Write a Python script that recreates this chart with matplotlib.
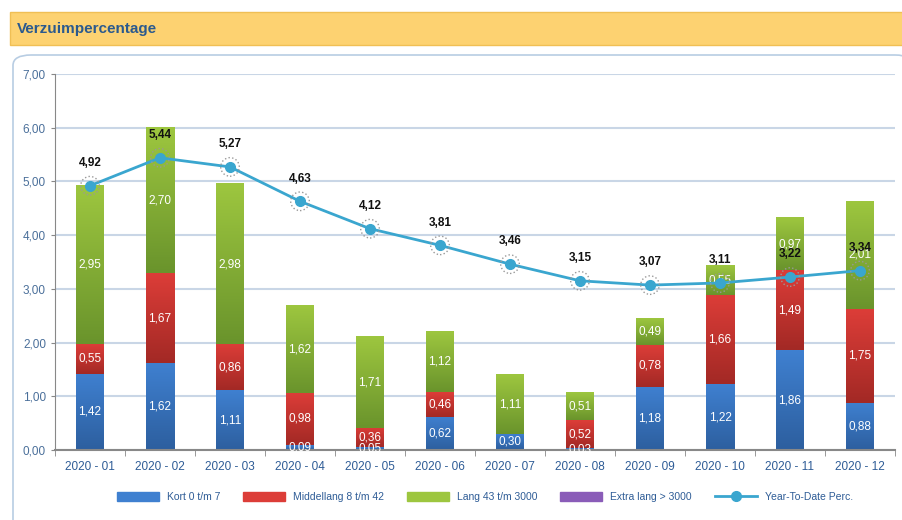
import matplotlib
matplotlib.use("Agg")
import matplotlib.pyplot as plt
import numpy as np
from matplotlib.colors import LinearSegmentedColormap
from matplotlib.patches import Rectangle, FancyBboxPatch

maanden = ["2020 - 01", "2020 - 02", "2020 - 03", "2020 - 04", "2020 - 05", "2020 - 06",
           "2020 - 07", "2020 - 08", "2020 - 09", "2020 - 10", "2020 - 11", "2020 - 12"]
kort = [1.42, 1.62, 1.11, 0.09, 0.05, 0.62, 0.30, 0.03, 1.18, 1.22, 1.86, 0.88]
middellang = [0.55, 1.67, 0.86, 0.98, 0.36, 0.46, 0.00, 0.52, 0.78, 1.66, 1.49, 1.75]
lang = [2.95, 2.70, 2.98, 1.62, 1.71, 1.12, 1.11, 0.51, 0.49, 0.55, 0.97, 2.01]
extra_lang = [0, 0, 0, 0, 0, 0, 0, 0, 0, 0, 0, 0]
ytd = [4.92, 5.44, 5.27, 4.63, 4.12, 3.81, 3.46, 3.15, 3.07, 3.11, 3.22, 3.34]

reeksen = [
    ("Kort 0 t/m 7", kort, "#2d5f9f", "#3f80d0"),
    ("Middellang 8 t/m 42", middellang, "#a32925", "#dc3d38"),
    ("Lang 43 t/m 3000", lang, "#6a942c", "#9dc63f"),
    ("Extra lang > 3000", extra_lang, "#6a3f94", "#8a5cb8"),
]


def komma(v):
    return f"{v:.2f}".replace(".", ",")


fig = plt.figure(figsize=(9.03, 5.2), dpi=100)

# titelbalk en paneel
fig.patches.append(Rectangle((10 / 903, 1 - 45 / 520), 893 / 903, 33 / 520,
                             transform=fig.transFigure, facecolor="#fdd271",
                             edgecolor="#f0bf55", lw=1, zorder=0))
fig.text(17 / 903, 1 - 29 / 520, "Verzuimpercentage", color="#2b5a8e",
         fontsize=11, fontweight="bold", va="center", family="Liberation Sans")
fig.patches.append(FancyBboxPatch((13 / 903, -0.05), 900 / 903, 1 - 55 / 520 + 0.05,
                                  boxstyle="round,pad=0,rounding_size=0.02",
                                  transform=fig.transFigure, facecolor="white",
                                  edgecolor="#b8cde3", lw=1.2, zorder=0))

ax = fig.add_axes([55 / 903, 1 - 450 / 520, 840 / 903, 376 / 520])
ax.set_zorder(2)
ax.set_facecolor("none")
x = np.arange(len(maanden))
breedte = 0.4
onder = np.zeros(len(maanden))
grad = np.linspace(0, 1, 64).reshape(-1, 1)
handles = []
for naam, waarden, donker, licht in reeksen:
    waarden = np.array(waarden)
    bars = ax.bar(x, waarden, breedte, bottom=onder, color=licht, zorder=2, label=naam)
    cmap = LinearSegmentedColormap.from_list(naam, [donker, licht])
    for b, v in zip(bars, waarden):
        if v <= 0:
            continue
        ax.imshow(grad, cmap=cmap, origin="lower", aspect="auto", zorder=2.1,
                  extent=[b.get_x(), b.get_x() + b.get_width(), b.get_y(), b.get_y() + b.get_height()])
        if naam != "Extra lang > 3000":
            ax.text(b.get_x() + b.get_width() / 2, b.get_y() + b.get_height() / 2, komma(v),
                    color="white", ha="center", va="center", fontsize=8.5, zorder=4,
                    family="Liberation Sans")
    handles.append(Rectangle((0, 0), 1, 1, color=licht))
    onder = onder + waarden

lijn, = ax.plot(x, ytd, color="#3aa6cf", lw=2, marker="o", ms=7, zorder=5,
                label="Year-To-Date Perc.")
ax.scatter(x, ytd, s=180, facecolors="none", edgecolors="#999999", linestyles=":", zorder=5)
for xi, v in zip(x, ytd):
    ax.annotate(komma(v), (xi, v), xytext=(0, 12), textcoords="offset points",
                ha="center", va="bottom", fontsize=8.5, fontweight="bold", color="#111111",
                zorder=6, family="Liberation Sans")

ax.set_xlim(-0.5, len(maanden) - 0.5)
ax.set_ylim(0, 7)
ax.set_yticks(np.arange(0, 8, 1))
ax.set_yticklabels([komma(v) for v in np.arange(0, 8, 1)])
ax.set_xticks(x)
ax.set_xticklabels(maanden)
ax.grid(axis="y", color="#c9d6e6", lw=1.5, zorder=0)
ax.set_axisbelow(True)
for s in ["top", "right"]:
    ax.spines[s].set_visible(False)
ax.spines["left"].set_color("#888888")
ax.spines["bottom"].set_color("#888888")
ax.spines["bottom"].set_linewidth(1.5)
ax.tick_params(axis="y", colors="#888888", labelcolor="#4a6f9a", labelsize=8.5, length=3)
ax.tick_params(axis="x", colors="#888888", labelcolor="#2e5c96", labelsize=8.5, length=4, pad=8)
for t in ax.get_xticklabels() + ax.get_yticklabels():
    t.set_family("Liberation Sans")
ax.set_xticks(np.arange(-0.5, len(maanden), 1), minor=True)
ax.tick_params(axis="x", which="major", length=0)
ax.tick_params(axis="x", which="minor", length=4, colors="#888888")

fig.legend(handles + [lijn], [r[0] for r in reeksen] + ["Year-To-Date Perc."],
           loc="center", bbox_to_anchor=(485 / 903, 1 - 497 / 520), ncol=5, frameon=False,
           handlelength=4, handleheight=0.9, columnspacing=2.2,
           labelcolor="#2e5c96", prop={"family": "Liberation Sans", "size": 7.5})

fig.savefig("out.png", dpi=100)
